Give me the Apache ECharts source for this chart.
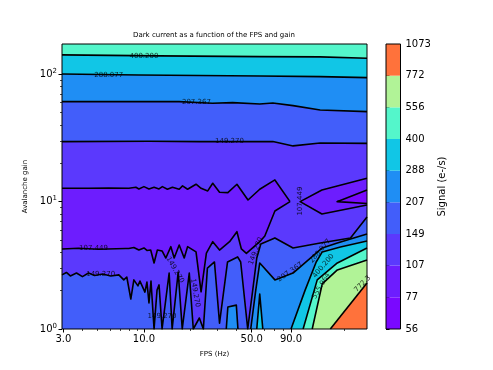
<!DOCTYPE html>
<html>
<head>
<meta charset="utf-8">
<script src="https://cdn.jsdelivr.net/npm/echarts@6/dist/echarts.min.js"></script>
<style>
    html, body { margin: 0; padding: 0; background: #fff; }
    #chart { width: 493px; height: 370px; }
</style>
</head>
<body>
<div id="chart"></div>
<script>
// axis ranges and ticks (FPS in Hz, gain)
const xRange = [2.94, 280];
const yRange = [1, 173];
const xTicks = [3, 10, 50, 90];
const xMinorTicks = [4, 5, 6, 7, 8, 9, 20, 30, 40, 60, 70, 80, 200];
const yTicks = [1, 10, 100];
const yMinorTicks = [2, 3, 4, 5, 6, 7, 8, 9, 20, 30, 40, 50, 60, 70, 80, 90];

// contour levels (e-/s), shown on the colorbar
const signalLevels = [56, 77, 107, 149, 207, 288, 400, 556, 772, 1073];

// contour lines, [fps, gain]
const line400Top = [[2.94, 142], [12.5, 139.5], [56.4, 137.7], [139, 137], [280, 133.8]];
const line288Top = [[2.94, 100.7], [9.27, 98.9], [56.4, 97.1], [139, 95.9], [280, 94.2]];
const line207Top = [[2.94, 61.0], [16.9, 61.0], [27.8, 59.3], [37.6, 59.9], [56.4, 58.5], [68.6, 59.6], [92.8, 56.8], [139, 52.5], [280, 50.9]];
const line149Top = [[2.94, 29.6], [10.8, 29.8], [22.9, 29.6], [68.6, 29.7], [92.8, 27.4], [139, 28.9], [280, 28.7]];

const line107Upper = [[2.94, 12.74], [4.37, 12.74], [5.91, 12.81], [7.98, 12.74], [8.87, 12.97], [9.27, 12.58], [10.0, 13.12],
    [10.78, 12.58], [11.63, 12.97], [12.53, 12.58], [13.17, 13.12], [14.2, 12.51], [15.31, 12.97], [16.93, 12.51], [17.8, 13.29],
    [19.19, 12.51], [21.77, 13.7], [23.48, 12.74], [25.93, 12.14], [27.95, 13.95], [30.93, 11.86], [35.03, 11.77], [40.11, 13.7],
    [47.33, 10.31], [56.4, 12.51], [70.73, 14.81], [88.66, 10.0]];
const line107Lower = [[2.94, 4.25], [3.76, 4.31], [5.08, 4.23], [7.59, 4.29], [7.98, 4.29], [8.6, 4.37], [9.27, 4.17], [10.0, 4.33],
    [10.46, 4.14], [11.06, 4.17], [11.63, 3.3], [12.22, 4.17], [13.11, 4.1], [13.87, 3.61], [14.95, 4.43], [15.71, 3.61], [16.93, 4.57],
    [18.25, 3.61], [19.19, 4.43], [21.77, 4.03], [23.48, 1.96], [25.42, 3.95], [27.95, 4.85], [30.93, 4.17], [35.94, 4.85], [40.11, 5.81],
    [42.86, 4.25], [46.2, 3.93], [56.4, 4.85], [60.85, 5.38], [70.73, 8.45], [88.66, 10.0]];
const line107Arrow = [[280, 15.27], [142.8, 12.36], [103.1, 10.0], [142.8, 8.01], [280, 9.42]];
const line77Inner = [[280, 12.36], [179, 10.0], [280, 9.68]];

const line149Lower = [[2.94, 2.66], [3.14, 2.78], [3.33, 2.61], [3.65, 2.75], [3.99, 2.58], [4.37, 2.75], [4.78, 2.63], [5.4, 2.7],
    [6.09, 2.61], [6.87, 2.66], [7.4, 2.43], [7.74, 2.56], [8.22, 1.72], [8.6, 2.43], [9.14, 2.18], [9.42, 2.38], [10.15, 1.95],
    [10.46, 2.34], [10.78, 1.6], [11.11, 2.38], [11.63, 1], [12.16, 2.02], [12.53, 2.22], [13.11, 1], [14.57, 2.75], [15.24, 1],
    [16.68, 2.8], [17.72, 1], [19.68, 2.75], [20.9, 1], [22.88, 1.22], [24.29, 1], [25.81, 3.01], [28.67, 3.36], [30.93, 1.11],
    [34.86, 3.36], [40.53, 3.68], [42.42, 3.36], [47.12, 1], [50.79, 2.02], [53.95, 3.61], [57.3, 4.65], [70.73, 5.19],
    [92.75, 4.33], [139.3, 4.74], [218.8, 5.19], [280, 7.58]];
const line207Right = [[49.3, 1], [53.15, 2.02], [56.4, 3.3], [70.73, 2.43], [92.75, 2.75], [143.5, 4.33], [179.8, 4.74], [280, 5.58]];
const line207Spike = [[34.2, 1], [35.03, 1.49], [39.75, 1.54], [40.72, 1]];
const line288Right = [[90.0, 1], [111.1, 2.02], [131.1, 3.36], [143.5, 4.03], [188.2, 4.41], [280, 4.91]];
const line288Spike = [[53.95, 1], [56.4, 1.88], [59.04, 1]];
const line400Right = [[107.8, 1], [133.1, 2.43], [179.8, 3.3], [280, 4.33]];
const line556Right = [[123.5, 1], [143.5, 2.26], [179.8, 2.91], [280, 3.48]];
const line772Right = [[161.9, 1], [280, 2.3]];

// inline contour labels: [fps, gain, text, rotation]
const contourLabels = [
    [10.0, 139.5, '400.200', 0],
    [5.91, 98.9, '288.077', 0],
    [21.9, 60.7, '207.367', 0],
    [35.9, 30.0, '149.270', 0],
    [103, 10.1, '107.449', 90],
    [4.71, 4.33, '107.449', 0],
    [5.24, 2.7, '149.270', 0],
    [15.9, 2.91, '149.270', -60],
    [21.5, 1.92, '149.270', -80],
    [13.1, 1.265, '149.270', 0],
    [53.2, 4.1, '149.270', 70],
    [88.7, 2.8, '207.367', 35],
    [139, 4.1, '288.077', 50],
    [146, 3.13, '400.200', 50],
    [141, 2.18, '555.964', 60],
    [262, 2.26, '772.3', 45]
];

// rainbow colours of the bands between consecutive levels
const bandColors = ['#7a08ff', '#6d1dfe', '#5b39fd', '#425efa', '#1f8ef4', '#11c6e6', '#54f6cb', '#b1f397', '#ff723b'];

const FONT = 'DejaVu Sans';
const lg = (p) => [Math.log10(p[0]), Math.log10(p[1])];

const x0 = xRange[0], x1 = xRange[1], y0 = yRange[0], y1 = yRange[1];
const toTop = (line) => line.concat([[x1, y1], [x0, y1]]);
const toBottom = (line) => line.concat([[x1, y0], [x0, y0]]);
const toCorner = (line) => line.concat([[x1, y0]]);

// painted in order: higher levels over lower, low pockets last
const fills = [
    { poly: [[x0, y0], [x1, y0], [x1, y1], [x0, y1]], band: 2 },
    { poly: toTop(line149Top), band: 3 },
    { poly: toBottom(line149Lower), band: 3 },
    { poly: toTop(line207Top), band: 4 },
    { poly: toCorner(line207Right), band: 4 },
    { poly: line207Spike, band: 4 },
    { poly: toTop(line288Top), band: 5 },
    { poly: toCorner(line288Right), band: 5 },
    { poly: line288Spike, band: 5 },
    { poly: toTop(line400Top), band: 6 },
    { poly: toCorner(line400Right), band: 6 },
    { poly: toCorner(line556Right), band: 7 },
    { poly: toCorner(line772Right), band: 8 },
    { poly: line107Upper.concat(line107Lower.slice().reverse()), band: 1 },
    { poly: line107Arrow, band: 1 },
    { poly: line77Inner, band: 0 }
];

const contourLines = [line400Top, line288Top, line207Top, line149Top, line107Upper, line107Lower, line107Arrow, line77Inner,
    line149Lower, line207Right, line207Spike, line288Right, line288Spike, line400Right, line556Right, line772Right];

const chart = echarts.init(document.getElementById('chart'));

const lineSeries = contourLines.map(line => ({
    type: 'line',
    xAxisIndex: 0,
    yAxisIndex: 0,
    data: line.map(lg),
    symbol: 'none',
    silent: true,
    z: 4,
    lineStyle: { color: '#000', width: 1.6, join: 'round' }
}));

const tickStyle = { color: '#000', fontSize: 10, fontFamily: FONT };

const option = {
    animation: false,
    graphic: [{
        type: 'text',
        x: 214,
        y: 32,
        style: { text: 'Dark current as a function of the FPS and gain', font: '7px "DejaVu Sans"', fill: '#000', textAlign: 'center' }
    }],
    grid: [
        { left: 62, top: 44, width: 305, height: 285, show: true, borderColor: '#000', borderWidth: 1, backgroundColor: 'transparent', z: 10 },
        { left: 386, top: 44, width: 14.5, height: 285, show: true, borderColor: '#000', borderWidth: 1, backgroundColor: 'transparent', z: 10 }
    ],
    xAxis: [
        {
            type: 'value', gridIndex: 0, position: 'bottom', min: Math.log10(x0), max: Math.log10(x1),
            name: 'FPS (Hz)', nameLocation: 'middle', nameGap: 22,
            nameTextStyle: { fontSize: 7, fontFamily: FONT, color: '#000' },
            axisLine: { show: false }, splitLine: { show: false },
            axisTick: { customValues: xTicks.map(Math.log10), length: 3.5, lineStyle: { color: '#000' } },
            axisLabel: { customValues: xTicks.map(Math.log10), formatter: v => Math.pow(10, v).toFixed(1), margin: 5, ...tickStyle }
        },
        {
            type: 'value', gridIndex: 0, position: 'bottom', min: Math.log10(x0), max: Math.log10(x1),
            axisLine: { show: false }, splitLine: { show: false }, axisLabel: { show: false },
            axisTick: { customValues: xMinorTicks.map(Math.log10), length: 2, lineStyle: { color: '#000', width: 0.7 } }
        },
        { type: 'value', gridIndex: 1, min: 0, max: 1, show: false }
    ],
    yAxis: [
        {
            type: 'value', gridIndex: 0, position: 'left', min: Math.log10(y0), max: Math.log10(y1),
            name: 'Avalanche gain', nameLocation: 'middle', nameGap: 30,
            nameTextStyle: { fontSize: 7, fontFamily: FONT, color: '#000' },
            axisLine: { show: false }, splitLine: { show: false },
            axisTick: { customValues: yTicks.map(Math.log10), length: 3.5, lineStyle: { color: '#000' } },
            axisLabel: {
                customValues: yTicks.map(Math.log10), margin: 5,
                formatter: v => `{b|10}{s|${Math.round(v)}}`,
                rich: {
                    b: { fontSize: 10, fontFamily: FONT, color: '#000' },
                    s: { fontSize: 7, fontFamily: FONT, color: '#000', padding: [0, 0, 6, 0] }
                }
            }
        },
        {
            type: 'value', gridIndex: 0, position: 'left', min: Math.log10(y0), max: Math.log10(y1),
            axisLine: { show: false }, splitLine: { show: false }, axisLabel: { show: false },
            axisTick: { customValues: yMinorTicks.map(Math.log10), length: 2, lineStyle: { color: '#000', width: 0.7 } }
        },
        {
            type: 'value', gridIndex: 1, position: 'right', min: 0, max: signalLevels.length - 1,
            name: 'Signal (e-/s)', nameLocation: 'middle', nameGap: 37, nameRotate: 90,
            nameTextStyle: { fontSize: 10, fontFamily: FONT, color: '#000' },
            axisLine: { show: false }, splitLine: { show: false },
            axisTick: { customValues: signalLevels.map((v, i) => i), length: 3.5, lineStyle: { color: '#000' } },
            axisLabel: { customValues: signalLevels.map((v, i) => i), formatter: v => signalLevels[Math.round(v)], margin: 5, ...tickStyle }
        }
    ],
    series: [
        {
            type: 'custom',
            xAxisIndex: 0,
            yAxisIndex: 0,
            clip: true,
            silent: true,
            z: 2,
            data: fills.map(() => [Math.log10(x0), Math.log10(y0)]),
            renderItem: (params, api) => {
                const f = fills[params.dataIndex];
                return {
                    type: 'polygon',
                    shape: { points: f.poly.map(p => api.coord(lg(p))) },
                    style: { fill: bandColors[f.band], stroke: bandColors[f.band], lineWidth: 0.5 }
                };
            }
        },
        ...lineSeries,
        {
            type: 'scatter',
            xAxisIndex: 0,
            yAxisIndex: 0,
            silent: true,
            z: 6,
            symbolSize: 1,
            itemStyle: { color: 'rgba(0,0,0,0)' },
            data: contourLabels.map(l => ({
                value: lg(l),
                name: l[2],
                label: { rotate: l[3] }
            })),
            label: {
                show: true, position: 'inside', formatter: p => p.name,
                fontSize: 7, fontFamily: FONT, color: '#000'
            }
        },
        {
            type: 'custom',
            xAxisIndex: 2,
            yAxisIndex: 2,
            silent: true,
            data: bandColors.map((c, i) => [0, i]),
            renderItem: (params, api) => {
                const i = params.dataIndex;
                const a = api.coord([0, i]);
                const b = api.coord([1, i + 1]);
                return {
                    type: 'rect',
                    shape: { x: a[0], y: b[1], width: b[0] - a[0], height: a[1] - b[1] },
                    style: { fill: bandColors[i] }
                };
            }
        }
    ]
};

chart.setOption(option);
</script>
</body>
</html>
